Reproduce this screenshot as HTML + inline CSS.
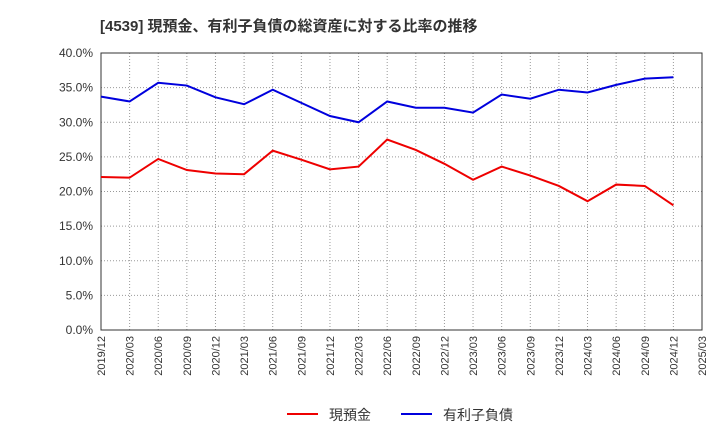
<!DOCTYPE html>
<html><head><meta charset="utf-8"><style>
body{margin:0;background:#fff;font-family:"Liberation Sans","Noto Sans CJK JP",sans-serif;}
</style></head><body>
<svg id="c" width="720" height="440" xmlns="http://www.w3.org/2000/svg">
<text x="100" y="31" font-size="15" font-weight="bold" fill="#333" font-family="Liberation Sans,Noto Sans CJK JP,sans-serif">[4539]  現預金、有利子負債の総資産に対する比率の推移</text>
<g id="grid"></g><g id="axes"></g><g id="series"></g>
<g>
<line x1="287" y1="414" x2="318" y2="414" stroke="#e00" stroke-width="2"/>
<text x="329" y="420" font-size="14" fill="#333">現預金</text>
<line x1="401" y1="414" x2="432" y2="414" stroke="#00d" stroke-width="2"/>
<text x="443" y="420" font-size="14" fill="#333">有利子負債</text>
</g>
</svg>
<script>
const categories=["2019/12","2020/03","2020/06","2020/09","2020/12","2021/03","2021/06","2021/09","2021/12","2022/03","2022/06","2022/09","2022/12","2023/03","2023/06","2023/09","2023/12","2024/03","2024/06","2024/09","2024/12","2025/03"];
const cashRatio=[22.1,22.0,24.7,23.1,22.6,22.5,25.9,24.6,23.2,23.6,27.5,26.0,24.0,21.7,23.6,22.3,20.8,18.6,21.0,20.8,18.0];
const debtRatio=[33.7,33.0,35.7,35.3,33.6,32.6,34.7,32.8,30.9,30.0,33.0,32.1,32.1,31.4,34.0,33.4,34.7,34.3,35.4,36.3,36.5];
const yTicks=[0,5,10,15,20,25,30,35,40];
const NS="http://www.w3.org/2000/svg";
const L=101,R=702,T=53,B=330;
const xs=i=>L+i*(R-L)/(categories.length-1);
const ys=v=>B-(v/40)*(B-T);
function mk(tag,attrs,parent){const e=document.createElementNS(NS,tag);for(const k in attrs)e.setAttribute(k,attrs[k]);parent.appendChild(e);return e;}
const grid=document.getElementById('grid'),axes=document.getElementById('axes'),ser=document.getElementById('series');
categories.forEach((c,i)=>{
 const g=mk('line',{x1:xs(i),x2:xs(i),y1:T,y2:B,stroke:'#999','stroke-dasharray':'1,2','stroke-width':1},grid);
 
 
 const t=mk('text',{x:0,y:0,'font-size':11,fill:'#333','text-anchor':'end',transform:`translate(${xs(i)+4},${B+6}) rotate(-90)`},axes);
 t.textContent=c;
 
 
});
yTicks.forEach(v=>{
 const g=mk('line',{x1:L,x2:R,y1:ys(v),y2:ys(v),stroke:'#999','stroke-dasharray':'1,2','stroke-width':1},grid);
 
 
 const t=mk('text',{x:L-8,y:ys(v)+4,'font-size':12,fill:'#333','text-anchor':'end'},axes);
 t.textContent=v.toFixed(1)+'%';
 
 
});
const frame=mk('rect',{x:L,y:T,width:R-L,height:B-T,fill:'none',stroke:'#333','stroke-width':1},axes);


function line(data,color,name){
 const p=mk('polyline',{points:data.map((v,i)=>xs(i)+','+ys(v)).join(' '),fill:'none',stroke:color,'stroke-width':2},ser);
 
 
}
line(cashRatio,'#e00','cash-ratio-line');
line(debtRatio,'#00d','debt-ratio-line');
</script>
</body></html>
